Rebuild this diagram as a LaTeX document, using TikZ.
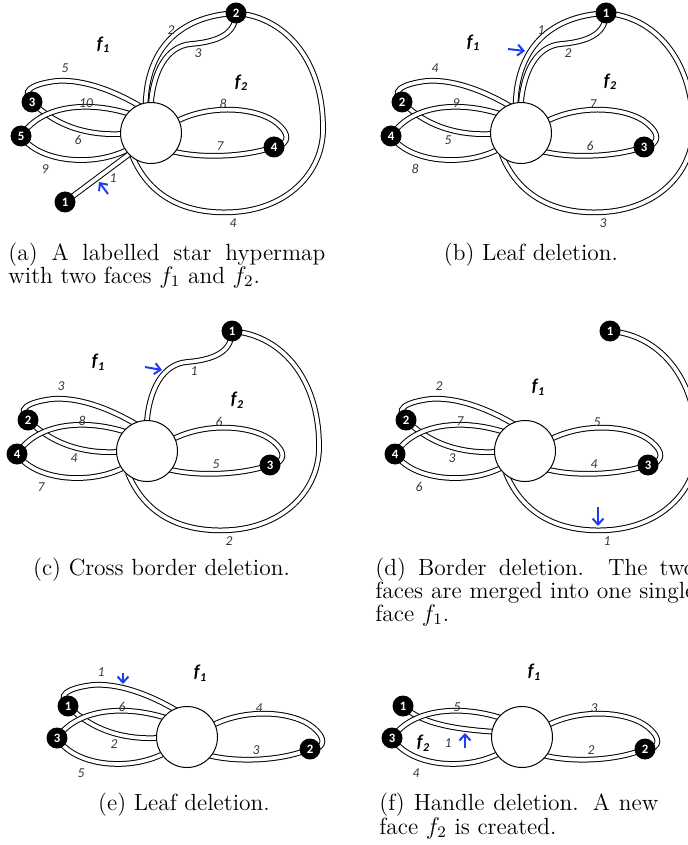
\documentclass[tikz,border=0pt]{standalone}
\usepackage{fontspec}
\newfontfamily\carl{Carlito}
\usetikzlibrary{arrows.meta}
\pgfdeclarelayer{bg}
\pgfsetlayers{bg,main}
\definecolor{arrowblue}{RGB}{30,60,245}
\definecolor{labgray}{RGB}{55,55,55}
\tikzset{
 ribbon/.style={draw=black, line width=0.5pt, double=white, double distance=1.85pt, shorten <=-2pt, shorten >=-2pt},
 hub/.style={circle, draw, line width=0.5pt, fill=white, minimum size=30.5pt, inner sep=0pt},
 vtx/.style={circle, fill=black, minimum size=10.5pt, inner sep=0pt, text=white, font=\carl\bfseries\fontsize{6.4}{7}\selectfont},
 elab/.style={text=labgray, font=\carl\itshape\fontsize{6.8}{7}\selectfont, inner sep=0pt},
 flab/.style={font=\carl\bfseries\itshape\fontsize{9}{9}\selectfont, inner sep=0pt},
 barrow/.style={draw=arrowblue, line width=1pt, -{Straight Barb[length=3pt,width=5.5pt]}},
 captext/.style={font=\fontsize{11.7}{11.8}\selectfont, inner sep=0pt, anchor=base west},
}
\newcommand\fsub[1]{f\kern0.2pt\raisebox{-0.4ex}{\fontsize{6}{6}\selectfont #1}}
\newcommand\ribULup[2]{%
 \begin{pgfonlayer}{bg}\draw[ribbon] (#1hub.115) .. controls (-40,-44) and (-70,-54) .. (-95,-52) .. controls (-118,-49) and (-134,-42) .. (#1ul.center);\end{pgfonlayer}%
 \node[elab] (#1e#2) at (-86,-65) {#2};}
\newcommand\ribULlo[2]{%
 \begin{pgfonlayer}{bg}\draw[ribbon] (#1ul.center) .. controls (-95,-5) and (-60,3) .. (#1hub.182);\end{pgfonlayer}%
 \node[elab] (#1e#2) at (-73,7) {#2};}
\newcommand\ribLLup[2]{%
 \begin{pgfonlayer}{bg}\draw[ribbon] (#1hub.140) .. controls (-60,-32) and (-112,-30) .. (#1ll.center);\end{pgfonlayer}%
 \node[elab] (#1e#2) at (-65,-30) {#2};}
\newcommand\ribLLlo[2]{%
 \begin{pgfonlayer}{bg}\draw[ribbon] (#1ll.center) .. controls (-118,28) and (-60,36) .. (#1hub.215);\end{pgfonlayer}%
 \node[elab] (#1e#2) at (-106,36) {#2};}
\newcommand\ribRup[2]{%
 \begin{pgfonlayer}{bg}\draw[ribbon] (#1hub.25) .. controls (60,-30) and (112,-26) .. (130,-6) .. controls (140,4) and (136,14) .. (#1rt.center);\end{pgfonlayer}%
 \node[elab] (#1e#2) at (72,-29) {#2};}
\newcommand\ribRlo[2]{%
 \begin{pgfonlayer}{bg}\draw[ribbon] (#1hub.322) .. controls (50,26) and (98,24) .. (#1rt.center);\end{pgfonlayer}%
 \node[elab] (#1e#2) at (69,13) {#2};}
\newcommand\ribOuter[2]{%
 \begin{pgfonlayer}{bg}\draw[ribbon] (#1hub.100) .. controls (-5,-75) and (20,-118) .. (#1top.center);\end{pgfonlayer}%
 \node[elab] (#1e#2) at (20,-103) {#2};}
\newcommand\ribInner[2]{%
 \begin{pgfonlayer}{bg}\draw[ribbon] (#1hub.90) .. controls (2,-62) and (16,-87) .. (40,-89) .. controls (64,-91) and (88,-98) .. (#1top.center);\end{pgfonlayer}%
 \node[elab] (#1e#2) at (47,-80) {#2};}
\newcommand\ribLoop[2]{%
 \begin{pgfonlayer}{bg}\draw[ribbon] (#1hub.235) .. controls (-1,67) and (39,82) .. (84,79) .. controls (139,75) and (174,37) .. (172,-8) .. controls (171,-73) and (134,-118) .. (#1top.center);\end{pgfonlayer}%
 \node[elab] (#1e#2) at (82,90) {#2};}
\begin{document}
\begin{tikzpicture}[x=0.5pt,y=-0.5pt]
\useasboundingbox (0,0) rectangle (687,845);
\clip (0,0) rectangle (687,845);
% (a)
\begin{scope}[shift={(151,133)}]
\node[hub] (ahub) at (0,0) {};
\node[vtx] (aul) at (-119,-31) {3};
\node[vtx] (all) at (-130,3) {5};
\node[vtx] (art) at (123,14) {4};
\node[vtx] (atop) at (85,-120) {2};
\node[vtx] (aleaf) at (-86,69) {1};
\ribULup{a}{5}\ribULlo{a}{6}\ribLLup{a}{10}\ribLLlo{a}{9}\ribRup{a}{8}\ribRlo{a}{7}
\ribOuter{a}{2}\ribInner{a}{3}\ribLoop{a}{4}
\begin{pgfonlayer}{bg}\draw[ribbon] (ahub.224) -- (aleaf.center);\end{pgfonlayer}
\node[elab] (ae1) at (-38,45) {1};
\node[flab] (af1) at (-48,-88) {\fsub{1}};
\node[flab] (af2) at (90,-50) {\fsub{2}};
\coordinate (aA) at (-43,61); \coordinate (aB) at (-52,49);
\draw[barrow] (aA) -- (aB);
\end{scope}
% (b)
\begin{scope}[shift={(521,133)}]
\node[hub] (bhub) at (0,0) {};
\node[vtx] (bul) at (-119,-31) {2};
\node[vtx] (bll) at (-130,3) {4};
\node[vtx] (brt) at (123,14) {3};
\node[vtx] (btop) at (85,-120) {1};
\ribULup{b}{4}\ribULlo{b}{5}\ribLLup{b}{9}\ribLLlo{b}{8}\ribRup{b}{7}\ribRlo{b}{6}
\ribOuter{b}{1}\ribInner{b}{2}\ribLoop{b}{3}
\node[flab] (bf1) at (-48,-90) {\fsub{1}};
\node[flab] (bf2) at (89,-51) {\fsub{2}};
\coordinate (bA) at (-13,-84); \coordinate (bB) at (4,-82);
\draw[barrow] (bA) -- (bB);
\end{scope}
% (c)
\begin{scope}[shift={(147,451)}]
\node[hub] (chub) at (0,0) {};
\node[vtx] (cul) at (-119,-31) {2};
\node[vtx] (cll) at (-130,3) {4};
\node[vtx] (crt) at (123,14) {3};
\node[vtx] (ctop) at (85,-120) {1};
\ribULup{c}{3}\ribULlo{c}{4}\ribLLup{c}{8}\ribLLlo{c}{7}\ribRup{c}{6}\ribRlo{c}{5}
\ribInner{c}{1}\ribLoop{c}{2}
\node[flab] (cf1) at (-49,-89) {\fsub{1}};
\node[flab] (cf2) at (90,-51) {\fsub{2}};
\coordinate (cA) at (-2,-84); \coordinate (cB) at (15,-81);
\draw[barrow] (cA) -- (cB);
\end{scope}
% (d)
\begin{scope}[shift={(525,451)}]
\node[hub] (dhub) at (0,0) {};
\node[vtx] (dul) at (-119,-31) {2};
\node[vtx] (dll) at (-130,3) {4};
\node[vtx] (drt) at (123,14) {3};
\node[vtx] (dtop) at (85,-120) {1};
\ribULup{d}{2}\ribULlo{d}{3}\ribLLup{d}{7}\ribLLlo{d}{6}\ribRup{d}{5}\ribRlo{d}{4}
\ribLoop{d}{1}
\node[flab] (df1) at (13,-64) {\fsub{1}};
\coordinate (dA) at (73,56); \coordinate (dB) at (73,75);
\draw[barrow] (dA) -- (dB);
\end{scope}
% (e)
\begin{scope}[shift={(187,737)}]
\node[hub] (ehub) at (0,0) {};
\node[vtx] (eul) at (-119,-31) {1};
\node[vtx] (ell) at (-130,1) {3};
\node[vtx] (ert) at (123,12) {2};
\ribULup{e}{1}\ribULlo{e}{2}\ribLLup{e}{6}\ribLLlo{e}{5}\ribRup{e}{4}\ribRlo{e}{3}
\node[flab] (ef1) at (13,-64) {\fsub{1}};
\coordinate (eA) at (-64,-64); \coordinate (eB) at (-64,-53);
\draw[barrow] (eA) -- (eB);
\end{scope}
% (f)
\begin{scope}[shift={(522,737)}]
\node[hub] (fhub) at (0,0) {};
\node[vtx] (ful) at (-119,-31) {1};
\node[vtx] (fll) at (-130,1) {3};
\node[vtx] (frt) at (123,12) {2};
\begin{pgfonlayer}{bg}\draw[ribbon] (ful.center) .. controls (-105,-14) and (-70,-8) .. (fhub.170);\end{pgfonlayer}
\node[elab] (fe1) at (-74,6) {1};
\ribLLup{f}{5}\ribLLlo{f}{4}\ribRup{f}{3}\ribRlo{f}{2}
\node[flab] (ff1) at (12,-65) {\fsub{1}};
\node[flab] (ff2) at (-99,6) {\fsub{2}};
\coordinate (fA) at (-57,11); \coordinate (fB) at (-57,-4);
\draw[barrow] (fA) -- (fB);
\end{scope}
% captions
\node[captext] (capa1) at (8,260) {\makebox[158.5pt][s]{(a) A labelled star hypermap}};
\node[captext] (capa2) at (8,283) {with two faces $f_1$ and $f_2$.};
\node[captext, anchor=base] (capb) at (531,260) {(b) Leaf deletion.};
\node[captext, anchor=base] (capc) at (161.5,575) {(c) Cross border deletion.};
\node[captext] (capd1) at (375,575) {\makebox[160pt][s]{(d) Border deletion. The two}};
\node[captext] (capd2) at (375,598) {\makebox[160pt][s]{faces are merged into one single}};
\node[captext] (capd3) at (375,621) {face $f_1$.};
\node[captext, anchor=base] (cape) at (184,810) {(e) Leaf deletion.};
\node[captext] (capf1) at (379,810) {\makebox[139.5pt][s]{(f) Handle deletion. A new}};
\node[captext] (capf2) at (379,834) {face $f_2$ is created.};
\end{tikzpicture}
\end{document}
